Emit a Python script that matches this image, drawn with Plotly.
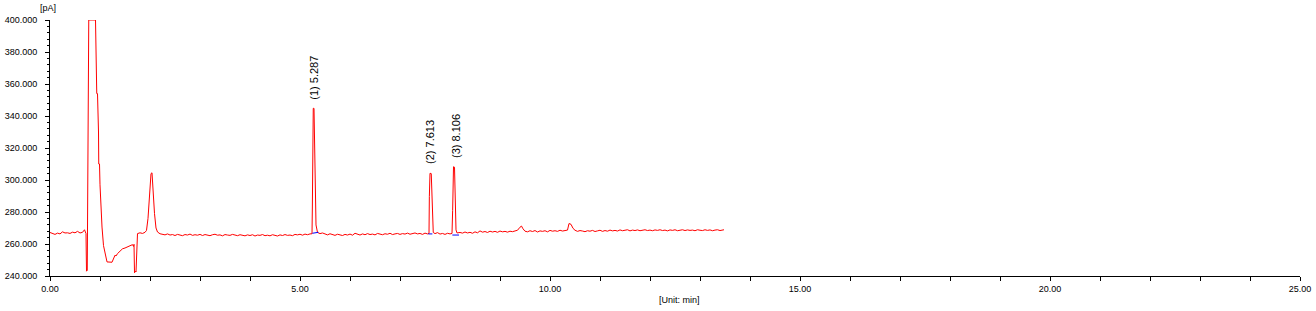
import plotly.graph_objects as go

# Chromatogram (FID signal)
time_min = [
    0.00, 0.05, 0.10, 0.15, 0.20, 0.25, 0.30, 0.35, 0.40, 0.45, 0.50, 0.55, 0.60, 0.65, 0.69,
    0.72, 0.73, 0.745, 0.755, 0.77, 0.775, 0.91, 0.915, 0.93, 0.935, 0.95, 0.955, 0.97, 0.975,
    0.99, 1.00, 1.02, 1.04, 1.07, 1.11, 1.14, 1.24, 1.28, 1.30, 1.32, 1.35, 1.40, 1.45, 1.50,
    1.55, 1.60, 1.65, 1.67, 1.68, 1.69, 1.71, 1.72, 1.73, 1.75, 1.80, 1.85, 1.90, 1.93, 1.96,
    1.98, 2.00, 2.02, 2.04, 2.05, 2.07, 2.09, 2.12, 2.15, 2.20,
    2.25, 2.30, 2.35, 2.40, 2.45, 2.50, 2.55, 2.60, 2.65, 2.70, 2.75, 2.80, 2.85, 2.90, 2.95,
    3.00, 3.05, 3.10, 3.15, 3.20, 3.25, 3.30, 3.35, 3.40, 3.45, 3.50, 3.55, 3.60, 3.65, 3.70,
    3.75, 3.80, 3.85, 3.90, 3.95, 4.00, 4.05, 4.10, 4.15, 4.20, 4.25, 4.30, 4.35, 4.40, 4.45,
    4.50, 4.55, 4.60, 4.65, 4.70, 4.75, 4.80, 4.85, 4.90, 4.95, 5.00, 5.05, 5.10, 5.15, 5.20,
    5.24, 5.247, 5.255, 5.265, 5.28, 5.29, 5.305, 5.32, 5.35,
    5.40, 5.45, 5.50, 5.55, 5.60, 5.65, 5.70, 5.75, 5.80, 5.85, 5.90, 5.95, 6.00, 6.05, 6.10,
    6.15, 6.20, 6.25, 6.30, 6.35, 6.40, 6.45, 6.50, 6.55, 6.60, 6.65, 6.70, 6.75, 6.80, 6.85,
    6.90, 6.95, 7.00, 7.05, 7.10, 7.15, 7.20, 7.25, 7.30, 7.35, 7.40, 7.45, 7.50, 7.55, 7.58,
    7.587, 7.60, 7.625, 7.635, 7.65, 7.665,
    7.70, 7.75, 7.80, 7.85, 7.90, 7.95, 8.00, 8.04,
    8.053, 8.07, 8.09, 8.10, 8.12, 8.14,
    8.20, 8.25, 8.30, 8.35, 8.40, 8.45, 8.50, 8.55, 8.60, 8.65, 8.70, 8.75, 8.80, 8.85, 8.90,
    8.95, 9.00, 9.05, 9.10, 9.15, 9.20, 9.25, 9.30, 9.35, 9.40, 9.43, 9.46, 9.50, 9.55, 9.60,
    9.65, 9.70, 9.75, 9.80, 9.85, 9.90, 9.95, 10.00, 10.05, 10.10, 10.15, 10.20, 10.25, 10.30,
    10.35, 10.38, 10.42, 10.46, 10.50, 10.55, 10.60, 10.65, 10.70, 10.75, 10.80, 10.85, 10.90,
    10.95, 11.00, 11.05, 11.10, 11.15, 11.20, 11.25, 11.30, 11.35, 11.40, 11.45, 11.50, 11.55,
    11.60, 11.65, 11.70, 11.75, 11.80, 11.85, 11.90, 11.95, 12.00, 12.05, 12.10, 12.15, 12.20,
    12.25, 12.30, 12.35, 12.40, 12.45, 12.50, 12.55, 12.60, 12.65, 12.70, 12.75, 12.80, 12.85,
    12.90, 12.95, 13.00, 13.05, 13.10, 13.15, 13.20, 13.25, 13.30, 13.35, 13.40, 13.45, 13.48,
]
signal_pa = [
    267.2, 266.5, 266.0, 266.8, 266.3, 267.6, 266.9, 267.0, 266.6, 267.4, 267.0, 267.9, 266.9, 267.3, 268.9,
    266.5, 243.0, 243.5, 308.0, 308.0, 400.0, 400.0, 381.0, 381.0, 354.0, 354.0, 330.0, 330.0, 310.0,
    310.0, 297.0, 282.0, 270.6, 259.0, 252.0, 248.8, 248.6, 251.0, 253.0, 252.5, 254.0, 255.5, 257.0, 257.5,
    258.2, 258.5, 259.6, 258.5, 259.8, 242.0, 243.0, 242.5, 258.0, 266.5, 267.0, 266.6, 267.3, 268.5, 276.0,
    285.0, 298.0, 304.0, 304.5, 299.0, 287.0, 279.0, 270.0, 267.5, 266.4,
    266.1, 265.7, 266.3, 265.6, 265.9, 265.3, 266.0, 265.8, 265.2, 265.9, 265.6, 266.2, 265.4, 265.8, 265.5,
    266.0, 265.3, 265.9, 265.7, 265.2, 265.8, 266.1, 265.5, 265.7, 265.1, 265.9, 265.6, 265.4, 266.0, 265.5,
    265.2, 265.8, 265.4, 265.1, 265.7, 265.3, 265.8, 265.0, 265.6, 265.4, 265.9, 265.2, 265.5, 265.1, 265.8,
    265.4, 265.0, 265.7, 265.3, 265.9, 265.4, 265.6, 265.2, 266.0, 265.7, 266.1, 265.5, 266.2, 265.8, 266.3,
    266.4, 282.5, 335.6, 344.8, 344.8, 324.0, 283.3, 271.9, 267.2,
    266.5, 266.9, 266.2, 265.7, 266.4, 265.9, 265.4, 266.1, 265.8, 265.3, 266.0, 265.6, 266.2, 265.5, 266.7,
    266.0, 265.6, 266.3, 265.8, 266.5, 265.9, 266.2, 265.7, 266.6, 266.0, 265.8, 266.4, 266.1, 266.7, 265.9,
    266.3, 266.6, 266.0, 266.5, 266.2, 266.8, 266.1, 266.4, 266.9, 266.3, 266.6, 266.0, 266.8, 266.3, 266.6,
    289.6, 304.2, 304.0, 289.6, 270.0, 267.2,
    266.5, 267.1, 266.2, 266.6, 266.0, 266.7, 266.3, 266.6,
    281.0, 308.3, 308.0, 293.7, 268.8, 266.9,
    267.2, 266.8, 267.5, 266.9, 267.3, 266.7, 267.6, 267.0, 268.2, 267.4, 267.8, 267.2, 268.0, 267.5, 267.9,
    267.3, 268.1, 267.6, 267.9, 267.4, 268.0, 267.7, 268.1, 268.6, 270.5, 271.2, 269.5, 268.0, 267.6, 268.3,
    267.8, 268.4, 267.5, 268.2, 267.9, 268.3, 267.6, 268.5, 268.0, 268.3, 267.9, 268.6, 268.1, 268.4,
    268.7, 272.8, 272.3, 269.8, 268.6, 267.9, 268.4, 268.1, 267.7, 268.3, 268.0, 268.5, 267.8,
    268.2, 268.6, 267.9, 268.4, 268.0, 268.7, 268.2, 268.5, 268.1, 268.8, 268.3, 268.6, 268.9,
    268.2, 268.7, 268.4, 268.8, 268.3, 268.6, 268.9, 268.4, 268.7, 268.3, 268.8, 268.5, 268.9,
    268.4, 268.7, 268.2, 268.8, 268.5, 268.9, 268.3, 268.6, 268.9, 268.4, 268.8, 268.5, 268.7,
    268.3, 268.9, 268.6, 268.4, 268.9, 268.5, 268.8, 268.3, 268.7, 268.9, 268.4, 268.6, 268.9,
]

# Integrated peaks: label, retention time, apex value, baseline start/end (time, value)
peak_labels = ["(1) 5.287", "(2) 7.613", "(3) 8.106"]
peak_rt = [5.287, 7.613, 8.106]
peak_apex = [344.8, 304.2, 308.3]
base_t0 = [5.247, 7.567, 8.047]
base_t1 = [5.367, 7.647, 8.180]
base_v0 = [266.7, 266.3, 265.6]
base_v1 = [267.3, 266.3, 265.6]

fig = go.Figure()
fig.add_trace(go.Scatter(x=time_min, y=signal_pa, mode="lines",
                         line=dict(color="#FF0000", width=1), showlegend=False,
                         hoverinfo="x+y"))
for t0, t1, v0, v1 in zip(base_t0, base_t1, base_v0, base_v1):
    fig.add_trace(go.Scatter(x=[t0, t1], y=[v0, v1], mode="lines",
                             line=dict(color="#0000FF", width=1), showlegend=False))

for lab, rt, ap in zip(peak_labels, peak_rt, peak_apex):
    fig.add_annotation(x=rt, y=ap, text=lab, textangle=-90, showarrow=False,
                       xanchor="center", yanchor="bottom", yshift=7,
                       font=dict(family="Liberation Sans, Arial", size=11, color="black"))

fig.add_annotation(x=0, y=1, xref="paper", yref="paper", text="[pA]", showarrow=False,
                   xanchor="right", yanchor="bottom", xshift=8, yshift=5,
                   font=dict(family="Liberation Sans, Arial", size=9, color="black"))

fig.add_annotation(x=0.5, y=0, xref="paper", yref="paper", text="[Unit: min]", showarrow=False,
                   xanchor="center", yanchor="middle", xshift=4, yshift=-24,
                   font=dict(family="Liberation Sans, Arial", size=9, color="black"))

axis_font = dict(family="Liberation Sans, Arial", size=9, color="black")
fig.update_layout(
    width=1316, height=311,
    margin=dict(l=50, r=16, t=20, b=35, autoexpand=False),
    paper_bgcolor="white", plot_bgcolor="white",
    font=axis_font,
    xaxis=dict(range=[0, 25], dtick=5, tick0=0, tickformat=".2f", automargin=False,
               showgrid=False, zeroline=False, showline=True, linecolor="black", linewidth=1,
               ticks="outside", ticklen=4, tickcolor="black", tickfont=axis_font,
               minor=dict(dtick=1, ticks="outside", ticklen=4, tickcolor="black", showgrid=False)),
    yaxis=dict(range=[240, 400], dtick=20, tick0=240, tickformat=".3f", automargin=False,
               showgrid=False, zeroline=False, showline=True, linecolor="black", linewidth=1,
               ticks="outside", ticklen=4, tickcolor="black", tickfont=axis_font,
               ticklabelstandoff=6,
               minor=dict(dtick=4, ticks="outside", ticklen=2, tickcolor="black", showgrid=False)),
)

fig.write_html("out.html")
